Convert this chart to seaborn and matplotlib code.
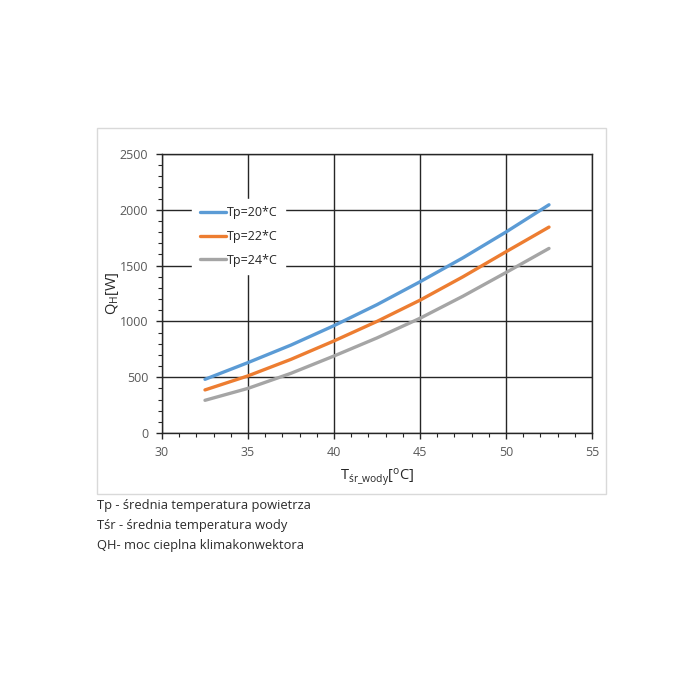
# ----------------------------------------------------------------------------------------
# ----- libraries
# ----------------------------------------------------------------------------------------
import matplotlib
matplotlib.use("Agg")
import matplotlib.pyplot as plt
from matplotlib.patches import Rectangle
from matplotlib.ticker import MultipleLocator
import pandas as pd
import seaborn as sns

# ----------------------------------------------------------------------------------------
# ----- data
# ----------------------------------------------------------------------------------------
t_water = [32.5, 35, 37.5, 40, 42.5, 45, 47.5, 50, 52.5]
q_tp20 = [481, 631, 788, 962, 1150, 1355, 1570, 1801, 2045]
q_tp22 = [386, 512, 660, 825, 1000, 1190, 1400, 1624, 1845]
q_tp24 = [293, 400, 535, 690, 852, 1028, 1226, 1438, 1654]
series_names = ["Tp=20*C", "Tp=22*C", "Tp=24*C"]
series_colors = ["#5B9BD5", "#ED7D31", "#A5A5A5"]

notes = [
    "Tp - średnia temperatura powietrza",
    "Tśr - średnia temperatura wody",
    "QH- moc cieplna klimakonwektora",
]


# ----------------------------------------------------------------------------------------
# ----- functions
# ----------------------------------------------------------------------------------------
def build_frame():
    rows = []
    for name, values in zip(series_names, [q_tp20, q_tp22, q_tp24]):
        for t, q in zip(t_water, values):
            rows.append({"T": t, "Q": q, "serie": name})
    return pd.DataFrame(rows)


def draw(df):
    sns.set_theme(style="white")
    plt.rcParams["font.family"] = ["Open Sans", "DejaVu Sans"]
    plt.rcParams["mathtext.fontset"] = "custom"
    plt.rcParams["mathtext.rm"] = "Open Sans"
    plt.rcParams["mathtext.it"] = "Open Sans:italic"

    fig = plt.figure(figsize=(7, 7), dpi=100)
    ax = fig.add_axes([162 / 700, 1 - 433 / 700, 430 / 700, 279 / 700])

    sns.lineplot(data=df, x="T", y="Q", hue="serie", palette=series_colors,
                 linewidth=2.4, ax=ax, zorder=3)

    ax.set_xlim(30, 55)
    ax.set_ylim(0, 2500)
    ax.xaxis.set_major_locator(MultipleLocator(5))
    ax.xaxis.set_minor_locator(MultipleLocator(1))
    ax.yaxis.set_major_locator(MultipleLocator(500))
    ax.yaxis.set_minor_locator(MultipleLocator(100))

    ax.grid(True, which="major", color="#262626", linewidth=1.0)
    for s in ax.spines.values():
        s.set_color("#262626")
        s.set_linewidth(1.0)

    ax.tick_params(which="both", direction="out", colors="#262626",
                   labelcolor="#595959", labelsize=9)
    ax.tick_params(which="major", length=4, width=1)
    ax.tick_params(which="minor", length=3, width=0.8)
    ax.tick_params(axis="x", which="major", pad=5)
    ax.tick_params(axis="y", which="major", pad=6)
    ax.tick_params(bottom=True, left=True, which="both")

    ax.set_xlabel(r"T$_{\mathrm{śr\_wody}}$[$^{\mathrm{o}}$C]", fontsize=10.5,
                  color="#262626")
    ax.set_ylabel(r"Q$_{\mathrm{H}}$[W]", fontsize=10.5, color="#262626")
    ax.xaxis.set_label_coords(0.5, -0.12)
    ax.yaxis.set_label_coords(-0.095, 0.5)

    handles, labels = ax.get_legend_handles_labels()
    leg = ax.legend(handles, labels, loc="upper left",
                    bbox_to_anchor=(0.056, 0.862), fontsize=9,
                    frameon=True, facecolor="white", edgecolor="white",
                    framealpha=1, fancybox=False, handlelength=2.1,
                    handletextpad=0.05, labelspacing=0.85, borderpad=0.6)
    leg.set_zorder(5)
    for line in leg.get_lines():
        line.set_linewidth(2.4)

    # outer chart frame
    fig.patches.append(Rectangle((97 / 700, 1 - 494 / 700), 509 / 700, 366 / 700,
                                 transform=fig.transFigure, fill=False,
                                 edgecolor="#d9d9d9", linewidth=1.0))

    # notes under the chart
    for i, txt in enumerate(notes):
        fig.text(97 / 700, 1 - (505 + i * 20.5) / 700, txt, fontsize=9.3,
                 color="#2b2b2b", va="center", ha="left")

    fig.savefig("out.png", dpi=100, facecolor="white")


# ----------------------------------------------------------------------------------------
# ----- start
# ----------------------------------------------------------------------------------------
if __name__ == "__main__":
    draw(build_frame())
